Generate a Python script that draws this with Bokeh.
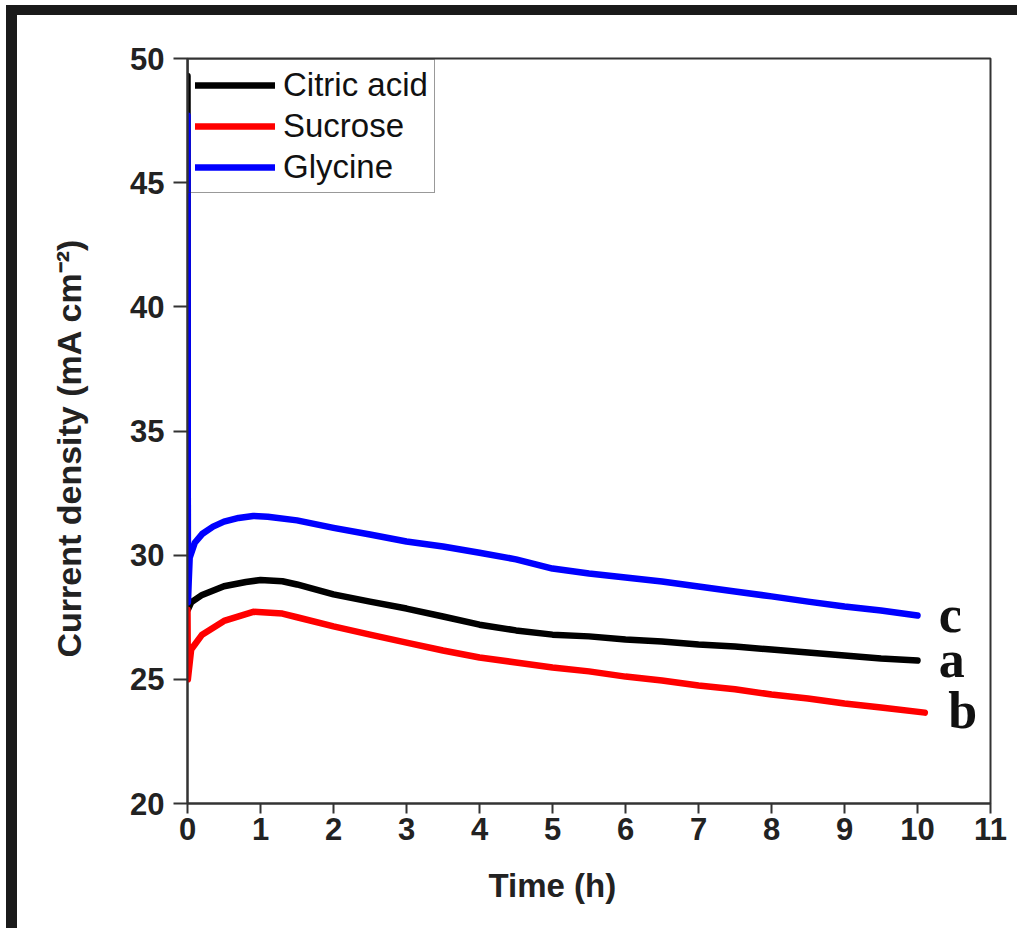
from bokeh.plotting import figure
from bokeh.models import Range1d, FixedTicker, Title
from bokeh.core.properties import value
from bokeh.embed import file_html
from bokeh.resources import INLINE

# ---- data ----
t_citric = [0, 0.005, 0.05, 0.2, 0.5, 0.8, 1.0, 1.3, 1.5, 2, 2.5, 3, 3.5, 4, 4.5, 5,
            5.5, 6, 6.5, 7, 7.5, 8, 8.5, 9, 9.5, 10]
j_citric = [49.3, 27.8, 28.1, 28.4, 28.75, 28.92, 29.0, 28.95, 28.82, 28.42, 28.13, 27.85,
            27.53, 27.2, 26.97, 26.8, 26.73, 26.6, 26.52, 26.4, 26.32, 26.2, 26.08, 25.96,
            25.84, 25.76]

t_sucrose = [0, 0.005, 0.05, 0.2, 0.5, 0.9, 1.3, 1.5, 2, 2.5, 3, 3.5, 4, 4.5, 5, 5.5,
             6, 6.5, 7, 7.5, 8, 8.5, 9, 9.5, 10.1]
j_sucrose = [27.8, 25.0, 26.2, 26.8, 27.35, 27.72, 27.65, 27.5, 27.13, 26.8, 26.48, 26.16,
             25.88, 25.68, 25.48, 25.32, 25.11, 24.95, 24.75, 24.6, 24.39, 24.23, 24.03,
             23.87, 23.66]

t_glycine = [0, 0.005, 0.03, 0.1, 0.2, 0.35, 0.5, 0.7, 0.9, 1.1, 1.5, 2, 2.5, 3, 3.5, 4,
             4.5, 5, 5.5, 6, 6.5, 7, 7.5, 8, 8.5, 9, 9.5, 10]
j_glycine = [47.7, 28.1, 29.9, 30.5, 30.85, 31.15, 31.35, 31.5, 31.58, 31.55, 31.4, 31.1,
             30.83, 30.55, 30.35, 30.1, 29.83, 29.46, 29.26, 29.1, 28.94, 28.74, 28.54,
             28.34, 28.13, 27.93, 27.77, 27.57]

series_names = ["Citric acid", "Sucrose", "Glycine"]
series_colors = ["#000000", "#ff0000", "#0000ff"]

curve_letters = ["c", "a", "b"]
letter_x = [10.29, 10.29, 10.42]
letter_y = [27.6, 25.8, 23.75]

x_ticks = list(range(0, 12))
y_ticks = [20, 25, 30, 35, 40, 45, 50]

x_title = "Time (h)"
y_title = "Current density (mA cm\u207b\u00b2)"

# ---- figure ----
p = figure(width=1011, height=923, output_backend="svg", toolbar_location=None,
           x_range=Range1d(0, 11), y_range=Range1d(20, 50),
           min_border_left=181, min_border_right=27, min_border_top=53,
           min_border_bottom=125)
p.margin = (5, 0, 0, 6)
p.background_fill_color = "white"
p.border_fill_alpha = 0.0
# thick dark picture frame on the top and left edges
p.styles = {"box-shadow": "inset 11px 10px 0 0 #1a1a1a"}
p.grid.visible = False
p.outline_line_color = "#333333"
p.outline_line_width = 2

for ax, ticks in ((p.xaxis, x_ticks), (p.yaxis, y_ticks)):
    ax.ticker = FixedTicker(ticks=ticks)
    ax.axis_line_color = "#333333"
    ax.axis_line_width = 2
    ax.major_tick_line_color = "#333333"
    ax.major_tick_line_width = 2
    ax.major_tick_in = 0
    ax.minor_tick_line_color = None
    ax.major_label_text_font = "Liberation Sans"
    ax.major_label_text_font_style = "bold"
    ax.major_label_text_font_size = "31px"
    ax.major_label_text_color = "#222222"
p.xaxis.major_tick_out = 10
p.xaxis.major_label_standoff = 4
p.yaxis.major_tick_out = 14
p.yaxis.major_label_standoff = 9

ts = [t_citric, t_sucrose, t_glycine]
js = [j_citric, j_sucrose, j_glycine]
for t, j, name, c in zip(ts, js, series_names, series_colors):
    p.line(t, j, line_width=6.5, color=c, legend_label=name,
           line_cap="round", line_join="round")

lg = p.legend[0]
lg.location = "top_left"
lg.margin = 1
lg.padding = 6
lg.spacing = 3
lg.glyph_width = 80
lg.glyph_height = 34
lg.label_height = 34
lg.label_standoff = 8
lg.label_text_font = "Liberation Sans"
lg.label_text_font_size = "33px"
lg.label_text_color = "#111111"
lg.border_line_color = "#333333"
lg.border_line_width = 1.5
lg.background_fill_alpha = 0.0

p.text(x=letter_x, y=letter_y, text=curve_letters,
       text_font=value("Liberation Serif"), text_font_style="bold",
       text_font_size="52px", text_color="#111111",
       text_align="left", text_baseline="alphabetic")

# axis titles
p.add_layout(Title(text=x_title, align="left", offset=301, standoff=44,
                   text_font="Liberation Sans", text_font_style="bold",
                   text_font_size="33px", text_color="#222222"), "below")
p.add_layout(Title(text=y_title, align="left", offset=146, standoff=80,
                   text_font="Liberation Sans", text_font_style="bold",
                   text_font_size="34px", text_color="#222222"), "left")

open("out.html", "w").write(file_html(p, INLINE))
